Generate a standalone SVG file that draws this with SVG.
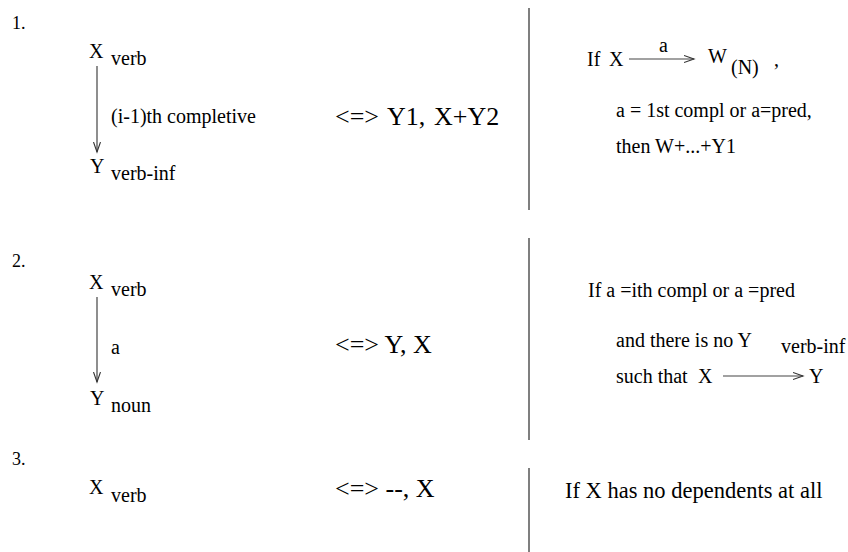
<svg xmlns="http://www.w3.org/2000/svg" width="848" height="552" viewBox="0 0 848 552">
<style>
text{font-family:"Liberation Serif","Times New Roman",serif;fill:#000}
.t{font-size:20px}
.s{font-size:18px}
.b{font-size:26px}
.ln{stroke:#444;stroke-width:1.2;fill:none}
.dv{stroke:#555;stroke-width:1.5;fill:none}
</style>
<defs>
<marker id="ah" markerUnits="userSpaceOnUse" markerWidth="12" markerHeight="10" refX="10" refY="4" orient="auto">
<path d="M0,0.5 L10,4 L0,7.5" fill="none" stroke="#333" stroke-width="1.1"/>
</marker>
</defs>
<rect width="848" height="552" fill="#fff"/>
<g id="connectors">
<line class="ln" x1="97" y1="66" x2="97" y2="152" marker-end="url(#ah)"/>
<line class="ln" x1="97" y1="297" x2="97" y2="382" marker-end="url(#ah)"/>
<line class="ln" x1="629" y1="59" x2="694" y2="59" marker-end="url(#ah)"/>
<line class="ln" x1="723" y1="376" x2="803" y2="376" marker-end="url(#ah)"/>
</g>
<g id="dividers">
<line class="dv" x1="529" y1="8" x2="529" y2="210"/>
<line class="dv" x1="529" y1="238" x2="529" y2="440"/>
<line class="dv" x1="529" y1="468" x2="529" y2="552"/>
</g>
<g id="rule1">
<text class="s" x="12" y="29">1.</text>
<g id="r1-x"><text class="t" x="89" y="58">X</text><text class="t" x="111" y="65">verb</text></g>
<text class="t" x="111" y="123">(i-1)th completive</text>
<g id="r1-y"><text class="t" x="90" y="173">Y</text><text class="t" x="111" y="180">verb-inf</text></g>
<text class="b" x="335" y="125">&lt;=&gt;</text>
<text class="b" x="387" y="125">Y1,</text>
<text class="b" x="434" y="125">X+Y2</text>
<g id="r1-cond">
<text class="t" x="587" y="66">If</text>
<text class="t" x="609" y="66">X</text>
<text class="t" x="659" y="52">a</text>
<text class="t" x="708" y="63">W</text>
<text class="t" x="731" y="74">(N)</text>
<text class="t" x="774" y="66">,</text>
<text class="t" x="616" y="117">a = 1st compl or a=pred,</text>
<text class="t" x="616" y="153">then W+...+Y1</text>
</g>
</g>
<g id="rule2">
<text class="s" x="12" y="267">2.</text>
<g id="r2-x"><text class="t" x="89" y="289">X</text><text class="t" x="111" y="296">verb</text></g>
<text class="t" x="111" y="354">a</text>
<g id="r2-y"><text class="t" x="90" y="405">Y</text><text class="t" x="111" y="412">noun</text></g>
<text class="b" x="335" y="353">&lt;=&gt; Y, X</text>
<g id="r2-cond">
<text class="t" x="588" y="297">If a =ith compl or a =pred</text>
<text class="t" x="616" y="347">and there is no Y</text>
<text class="t" x="781" y="353">verb-inf</text>
<text class="t" x="616" y="383">such that</text>
<text class="t" x="698" y="383">X</text>
<text class="t" x="809" y="383">Y</text>
</g>
</g>
<g id="rule3">
<text class="s" x="12" y="465">3.</text>
<g id="r3-x"><text class="t" x="89" y="494">X</text><text class="t" x="111" y="502">verb</text></g>
<text class="b" x="335" y="497">&lt;=&gt; --, X</text>
<text x="565" y="498" style="font-size:22.5px">If X has no dependents at all</text>
</g>
</svg>
